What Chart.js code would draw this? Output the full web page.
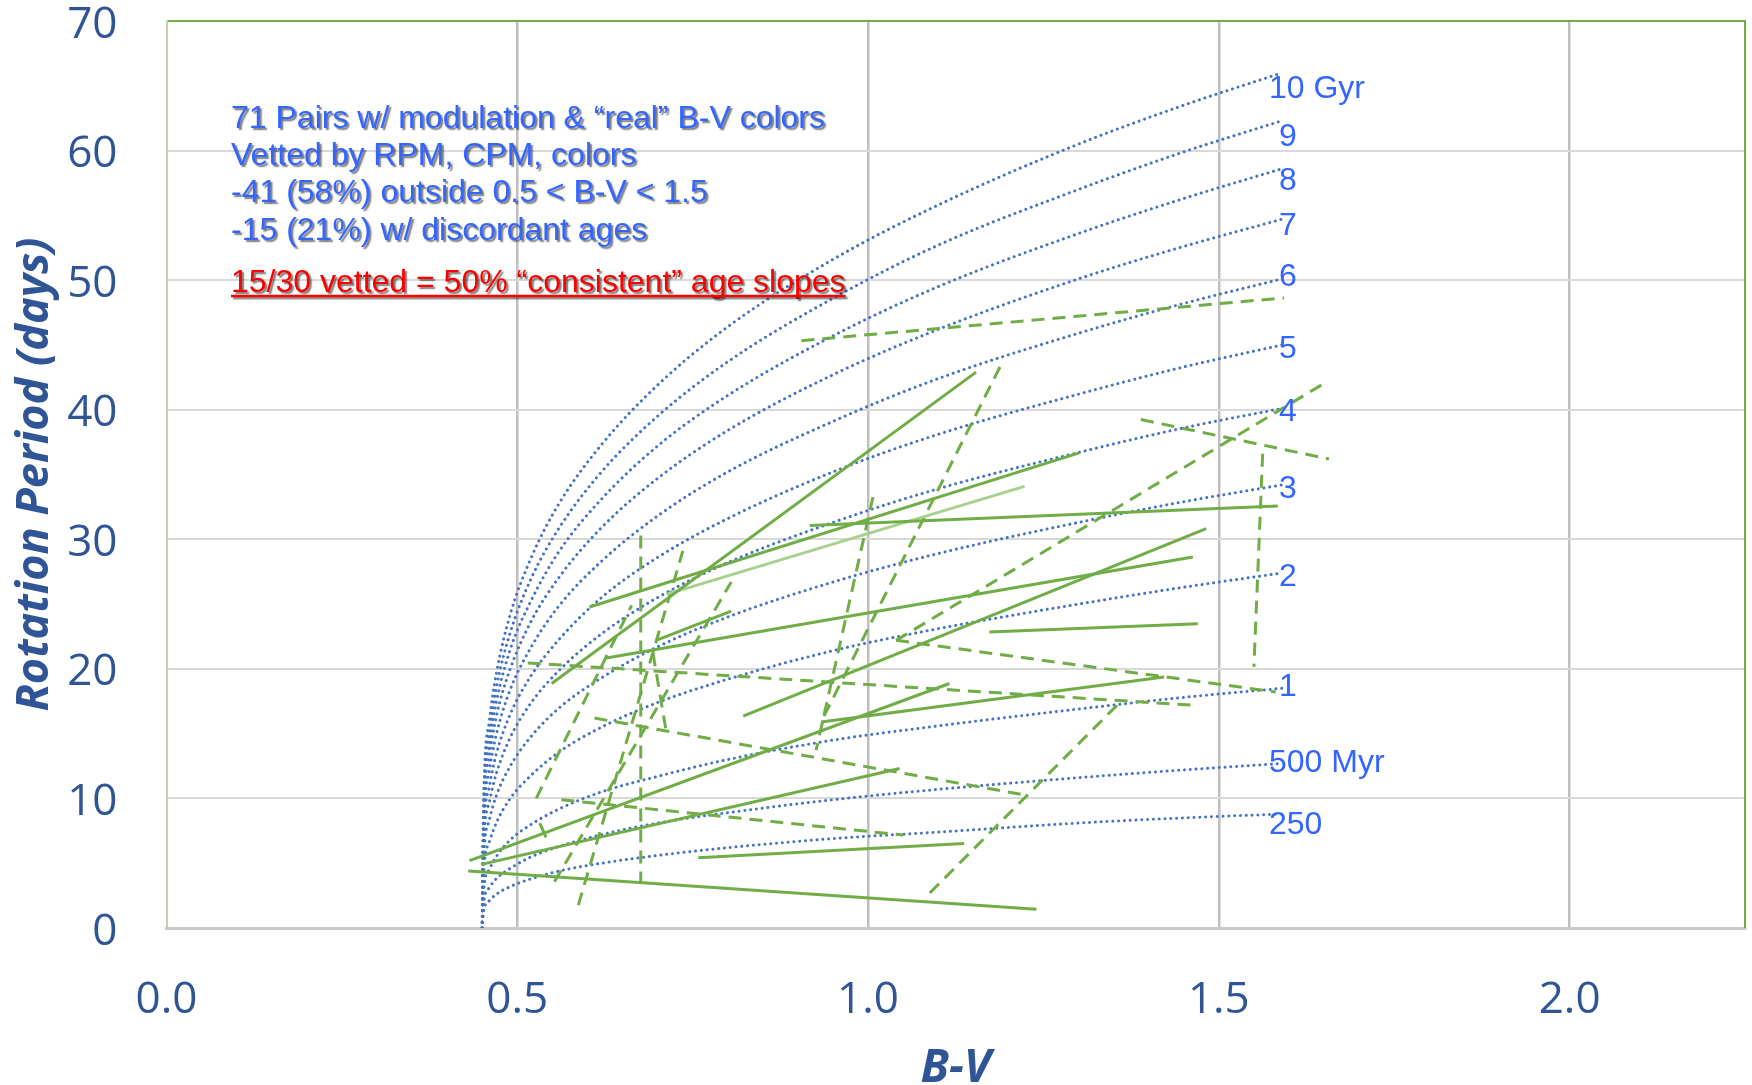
<!DOCTYPE html>
<html>
<head>
<meta charset="utf-8">
<title>Rotation Period vs B-V</title>
<script src="https://cdn.jsdelivr.net/npm/chart.js@4.4.1/dist/chart.umd.min.js"></script>
<style>
  html, body { margin: 0; padding: 0; background: #fff; }
  #wrap { width: 1752px; height: 1085px; }
</style>
</head>
<body>
<div id="wrap"><canvas id="myChart" width="1752" height="1085"></canvas></div>
<script>
// B-V colours where the isochrones are sampled
const bvGrid = [0.45, 0.452, 0.46, 0.47, 0.49, 0.52, 0.56, 0.62, 0.70, 0.80, 0.95, 1.10, 1.30, 1.45, 1.59];

// rotation period (days) along each isochrone
const iso10Gyr = [0, 9.8, 15.9, 19.6, 24.2, 28.6, 32.8, 37.3, 41.9, 46.4, 51.6, 55.8, 60.5, 63.5, 66.0];
const iso9Gyr  = [0, 9.3, 15.0, 18.5, 22.8, 27.0, 30.9, 35.2, 39.5, 43.7, 48.6, 52.7, 57.0, 59.9, 62.3];
const iso8Gyr  = [0, 8.7, 14.1, 17.4, 21.5, 25.3, 29.1, 33.1, 37.2, 41.1, 45.7, 49.5, 53.6, 56.3, 58.6];
const iso7Gyr  = [0, 8.2, 13.2, 16.3, 20.0, 23.7, 27.1, 30.9, 34.7, 38.4, 42.7, 46.2, 50.1, 52.6, 54.7];
const iso6Gyr  = [0, 7.5, 12.1, 14.9, 18.4, 21.7, 24.9, 28.3, 31.8, 35.2, 39.1, 42.4, 45.9, 48.2, 50.1];
const iso5Gyr  = [0, 6.7, 10.9, 13.4, 16.5, 19.5, 22.3, 25.5, 28.6, 31.6, 35.2, 38.1, 41.2, 43.3, 45.0];
const iso4Gyr  = [0, 6.0, 9.7, 11.9, 14.7, 17.4, 19.9, 22.7, 25.5, 28.2, 31.3, 33.9, 36.7, 38.6, 40.1];
const iso3Gyr  = [0, 5.1, 8.3, 10.2, 12.5, 14.8, 17.0, 19.3, 21.7, 24.0, 26.7, 28.9, 31.3, 32.9, 34.2];
const iso2Gyr  = [0, 4.1, 6.6, 8.1, 10.0, 11.8, 13.6, 15.5, 17.4, 19.2, 21.4, 23.1, 25.0, 26.3, 27.4];
const iso1Gyr  = [0, 2.8, 4.5, 5.5, 6.8, 8.0, 9.2, 10.5, 11.7, 13.0, 14.5, 15.6, 16.9, 17.8, 18.5];
const iso500Myr = [0, 1.9, 3.1, 3.8, 4.6, 5.5, 6.3, 7.2, 8.1, 8.9, 9.9, 10.7, 11.6, 12.2, 12.7];
const iso250Myr = [0, 1.3, 2.1, 2.6, 3.2, 3.8, 4.4, 5.0, 5.6, 6.2, 6.9, 7.4, 8.1, 8.5, 8.8];
const isoLabels = ["10 Gyr", "9", "8", "7", "6", "5", "4", "3", "2", "1", "500 Myr", "250"];

// binary pairs: [B-V of A, period of A, B-V of B, period of B]
const pairsSolid = [
  [0.430, 4.40, 1.240, 1.45],
  [0.432, 5.20, 1.116, 18.87],
  [0.449, 4.91, 1.045, 12.31],
  [0.758, 5.42, 1.137, 6.53],
  [0.549, 18.87, 1.154, 42.9],
  [0.603, 24.77, 1.301, 36.67],
  [0.917, 31.07, 1.584, 32.56],
  [0.627, 20.84, 1.463, 28.63],
  [0.698, 22.20, 0.805, 24.46],
  [0.822, 16.35, 1.482, 30.82],
  [0.933, 15.90, 1.422, 19.38],
  [1.173, 22.85, 1.470, 23.49],
  [0.532, 8.10, 0.541, 7.00]
];
const pairsFaint = [
  [0.7125, 25.75, 1.223, 34.08]
];
const pairsDashed = [
  [0.905, 45.33, 1.593, 48.63],
  [1.188, 43.30, 0.933, 15.90],
  [1.007, 33.25, 0.926, 13.72],
  [1.646, 41.90, 1.040, 22.20],
  [1.389, 39.24, 1.657, 36.20],
  [1.040, 22.20, 1.581, 18.22],
  [1.5625, 36.60, 1.550, 20.15],
  [0.515, 20.46, 1.463, 17.19],
  [0.610, 16.20, 1.225, 10.25],
  [0.563, 9.90, 1.050, 7.17],
  [1.088, 2.70, 1.355, 17.20],
  [0.676, 30.30, 0.676, 3.45],
  [0.527, 10.00, 0.663, 24.90],
  [0.553, 3.57, 0.805, 26.70],
  [0.587, 1.77, 0.736, 29.10],
  [0.6935, 21.20, 0.7125, 15.10]
];

const xTickValues = [0, 0.5, 1.0, 1.5, 2.0];

const noteLines = [
  "71 Pairs w/ modulation & \u201creal\u201d B-V colors",
  "Vetted by RPM, CPM, colors",
  "-41 (58%) outside 0.5 < B-V < 1.5",
  "-15 (21%) w/ discordant ages"
];
const noteSummary = "15/30 vetted = 50% \u201cconsistent\u201d age slopes";

const isochrones = [iso10Gyr, iso9Gyr, iso8Gyr, iso7Gyr, iso6Gyr, iso5Gyr,
  iso4Gyr, iso3Gyr, iso2Gyr, iso1Gyr, iso500Myr, iso250Myr];

const axisBlue = "#2f5597";
const green = "#70ad47";

function pairLine(p, color, dash, width) {
  return {
    data: [{ x: p[0], y: p[1] }, { x: p[2], y: p[3] }],
    showLine: true,
    borderColor: color,
    borderWidth: width,
    borderDash: dash,
    pointRadius: 0,
    order: 0
  };
}

let datasets = [];
pairsSolid.forEach((p) => datasets.push(pairLine(p, green, [], 3)));
pairsFaint.forEach((p) => datasets.push(pairLine(p, "#a9d18e", [], 3)));
pairsDashed.forEach((p) => datasets.push(pairLine(p, green, [13, 8], 3)));
isochrones.forEach((vals) => {
  datasets.push({
    data: bvGrid.map((x, i) => ({ x: x, y: vals[i] })),
    showLine: true,
    borderColor: "#4472c4",
    borderWidth: 3,
    borderDash: [0.01, 5.8],
    borderCapStyle: "round",
    cubicInterpolationMode: "monotone",
    pointRadius: 0,
    order: 1
  });
});

// per-label vertical nudge (px) so numbers sit beside their curve ends
const labelNudge = [16, 16, 12, 7, -2, 4, 4, 4, 4, -1, 0, 11];

const overlay = {
  id: "overlay",
  afterDatasetsDraw(chart) {
    const { ctx, chartArea, scales } = chart;
    ctx.save();

    ctx.strokeStyle = green;
    ctx.lineWidth = 2;
    ctx.beginPath();
    ctx.moveTo(chartArea.right, chartArea.top - 1);
    ctx.lineTo(chartArea.right, chartArea.bottom);
    ctx.stroke();

    ctx.font = "32px 'Liberation Sans', Arial, sans-serif";
    ctx.fillStyle = "#3366ff";
    ctx.textBaseline = "middle";
    isochrones.forEach((vals, i) => {
      const last = vals.length - 1;
      const px = scales.x.getPixelForValue(bvGrid[last]);
      const py = scales.y.getPixelForValue(vals[last]);
      const txt = isoLabels[i];
      ctx.fillText(txt, px + (txt.length > 1 ? -13 : -3), py + labelNudge[i]);
    });

    ctx.shadowColor = "rgba(30,30,30,0.6)";
    ctx.shadowOffsetX = 2;
    ctx.shadowOffsetY = 2;
    ctx.shadowBlur = 1.5;
    ctx.textBaseline = "alphabetic";
    ctx.fillStyle = "#3366ff";
    const baselines = [127.5, 165, 202, 240];
    noteLines.forEach((line, i) => ctx.fillText(line, 231, baselines[i]));

    ctx.fillStyle = "#ff0000";
    ctx.fillText(noteSummary, 231, 292);
    const w = ctx.measureText(noteSummary).width;
    ctx.strokeStyle = "#ff0000";
    ctx.lineWidth = 2.5;
    ctx.beginPath();
    ctx.moveTo(231, 296);
    ctx.lineTo(231 + w, 296);
    ctx.stroke();

    ctx.restore();
  }
};

let ctx = document.getElementById("myChart");
let myChart = new Chart(ctx, {
  type: "scatter",
  data: { datasets: datasets },
  plugins: [overlay],
  options: {
    responsive: false,
    animation: false,
    layout: { padding: { top: 21, right: 7, left: 0, bottom: 0 } },
    plugins: { legend: { display: false }, tooltip: { enabled: false } },
    scales: {
      x: {
        type: "linear",
        min: 0,
        max: 2.25,
        afterBuildTicks: (scale) => {
          scale.ticks = xTickValues.map((v) => ({ value: v }));
        },
        afterFit: (scale) => { scale.height = 157; },
        ticks: {
          color: axisBlue,
          font: { family: "'Open Sans'", size: 44 },
          padding: 46,
          callback: (v) => Number(v).toFixed(1)
        },
        grid: {
          drawTicks: false,
          lineWidth: 2.5,
          color: (c) => (c.tick && c.tick.value === 0 ? "rgba(0,0,0,0)" : "#bfbfbf")
        },
        border: { display: true, color: "#c8c8c8", width: 3 },
        title: {
          display: true,
          text: "B-V",
          color: axisBlue,
          font: { family: "'Open Sans'", size: 46, weight: "bold", style: "italic", lineHeight: 0.68 },
          padding: { top: 0, bottom: 0 }
        }
      },
      y: {
        min: 0,
        max: 70,
        afterFit: (scale) => { scale.width = 166.5; },
        ticks: {
          stepSize: 10,
          color: axisBlue,
          font: { family: "'Open Sans'", size: 44, lineHeight: 0.9 },
          padding: 0,
          labelOffset: 4
        },
        grid: {
          drawTicks: true,
          tickLength: 49,
          tickColor: "rgba(0,0,0,0)",
          lineWidth: 2,
          color: (c) => {
            if (!c.tick) return "#d9d9d9";
            if (c.tick.value === 70) return green;
            if (c.tick.value === 0) return "rgba(0,0,0,0)";
            return "#d9d9d9";
          }
        },
        border: { display: true, color: "#c5cebb", width: 2 },
        title: {
          display: true,
          text: "Rotation Period (days)",
          color: axisBlue,
          font: { family: "'Open Sans'", size: 45, weight: "bold", style: "italic", lineHeight: 1.2 },
          padding: { top: 8, bottom: 0 }
        }
      }
    }
  }
});
</script>
</body>
</html>
